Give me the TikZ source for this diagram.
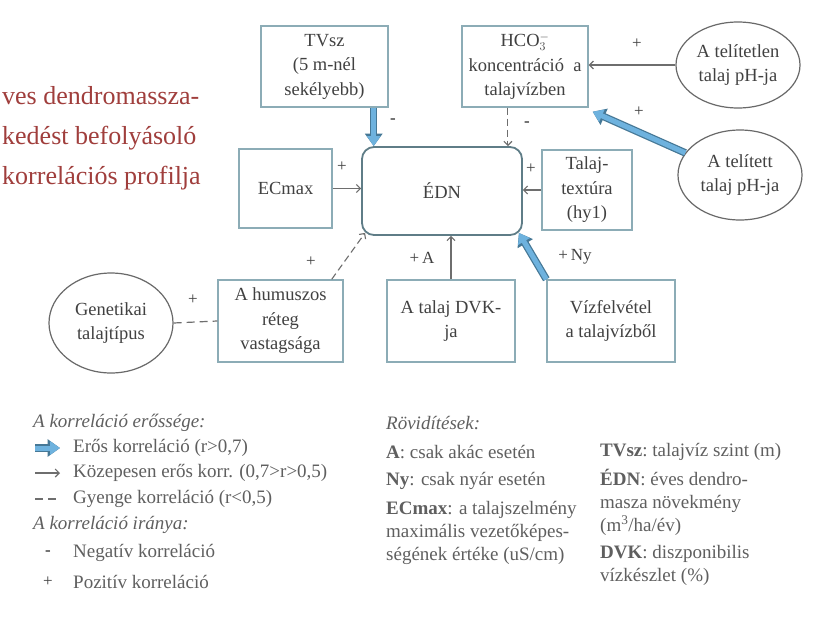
\documentclass[tikz,border=0pt]{standalone}
\usepackage{fontspec}
\setmainfont{Liberation Serif}
\usepackage{xcolor}
\usepackage{tikz}
\usetikzlibrary{arrows.meta,shapes.geometric,calc}

\definecolor{boxline}{RGB}{140,172,182}
\definecolor{ednline}{RGB}{95,125,135}
\definecolor{ovalline}{RGB}{105,105,105}
\definecolor{txtgray}{RGB}{65,65,65}
\definecolor{legendgray}{RGB}{95,95,95}
\definecolor{strongfill}{RGB}{110,178,222}
\definecolor{strongedge}{RGB}{70,120,150}
\definecolor{titlered}{RGB}{160,62,60}
\definecolor{arrowgray}{RGB}{110,110,110}

\tikzset{
    factor/.style={draw=boxline, line width=1.4pt, fill=white, text=txtgray,
        align=center, inner sep=0pt, font=\fontsize{18.5}{24.5}\selectfont},
    target/.style={factor, draw=ednline, line width=1.8pt, rounded corners=12pt},
    soil/.style={factor, draw=ovalline, line width=1.2pt, ellipse},
    strong/.style={draw=strongfill, line width=5pt, -{Triangle[length=10pt,width=13pt]},
        preaction={draw=strongedge, line width=7.5pt, -{Triangle[length=12.5pt,width=17pt]}}},
    medium/.style={draw=arrowgray, line width=1.1pt, -{Straight Barb[length=4pt,width=8pt]}},
    weak/.style={medium, dash pattern=on 7pt off 4pt},
    weakline/.style={draw=arrowgray, line width=1.2pt, dash pattern=on 8pt off 5pt},
    sign/.style={text=txtgray, inner sep=0pt, font=\fontsize{17}{20}\selectfont},
    legendhead/.style={anchor=west, inner sep=0pt, text=legendgray, font=\fontsize{19}{23}\selectfont\itshape},
    legendtext/.style={anchor=west, inner sep=0pt, text=legendgray, align=left, font=\fontsize{19}{23}\selectfont},
}

\begin{document}
\begin{tikzpicture}[x=1pt,y=-1pt]
    \useasboundingbox[fill=white] (0,0) rectangle (814,616);

    \node[anchor=west, inner sep=0pt, align=left, text=titlered,
        font=\fontsize{26}{40}\selectfont] (title) at (2,138)
        {ves dendromassza-\\kedést befolyásoló\\korrelációs profilja};

    % factors
    \node[factor, minimum width=127pt, minimum height=81pt] (tvsz) at (324.5,66.5) {TVsz\\(5 m-nél\\sekélyebb)};
    \node[factor, minimum width=126pt, minimum height=81pt] (hco) at (525,66.5) {HCO$_3^-$\\koncentráció\ \ a\\talajvízben};
    \node[soil, minimum width=124pt, minimum height=86pt] (tlen) at (738,65) {A telítetlen\\talaj pH-ja};
    \node[soil, minimum width=124pt, minimum height=90pt] (tett) at (740,175) {A telített\\talaj pH-ja};
    \node[factor, minimum width=93pt, minimum height=79pt] (ecmax) at (285.5,188.5) {ECmax};
    \node[target, minimum width=160pt, minimum height=88pt] (edn) at (442,191) {ÉDN};
    \node[factor, minimum width=90pt, minimum height=80pt] (textura) at (587,190) {Talaj-\\textúra\\(hy1)};
    \node[soil, minimum width=124pt, minimum height=100pt] (gen) at (111,323) {Genetikai\\talajtípus};
    \node[factor, minimum width=125pt, minimum height=82pt] (hum) at (280.5,321) {A humuszos\\réteg\\vastagsága};
    \node[factor, minimum width=128pt, minimum height=82pt] (dvk) at (451,321) {A talaj DVK-\\ja};
    \node[factor, minimum width=128pt, minimum height=82pt] (viz) at (611,321) {Vízfelvétel\\a talajvízből};

    % correlations
    \coordinate (tvszout) at ([xshift=-15pt]tvsz.south east);
    \coordinate (hcoin) at ([xshift=-15pt]edn.north east);
    \draw[strong] (tvszout) -- (tvszout |- edn.north);
    \draw[weak] (hcoin |- hco.south) -- (hcoin);
    \draw[medium] (ecmax.east) -- (ecmax.east -| edn.west);
    \draw[medium] (textura.west) -- (textura.west -| edn.east);
    \draw[medium] (tlen.west) -- (tlen.west -| hco.east);
    \draw[strong] (tett.158) -- ([shift={(4pt,-4pt)}]hco.south east);
    \draw[weakline] (gen.east) -- (hum.west);
    \draw[weak] ([xshift=-12pt]hum.north east) -- ([shift={(4pt,3pt)}]edn.south west);
    \draw[medium] (dvk.north) -- (dvk.north |- edn.south);
    \draw[strong] (viz.north west) -- ([shift={(-4pt,3pt)}]edn.south east);

    \foreach \n/\p/\t in {s1/{393,121}/\textbf{-}, s2/{527,124}/\textbf{-}, s3/{342,167}/+, s4/{531,169}/+,
        s5/{637,44}/+, s6/{639,112}/+, s7/{311,262}/+, s8/{193,300}/+,
        s9/{422,258}/+\,A, s10/{575,257}/+\,Ny} {
        \node[sign] (\n) at (\p) {\t};
    }

    % legend
    \node[legendhead] (lh1) at (33,423) {A korreláció erőssége:};
    \coordinate (ls1) at (35,448); \coordinate (le1) at (60,448);
    \coordinate (ls2) at (35,473); \coordinate (le2) at (60,473);
    \coordinate (ls3) at (35,499); \coordinate (le3) at (60,499);
    \draw[strong] (ls1) -- (le1);
    \draw[medium] (ls2) -- (le2);
    \draw[weakline] (ls3) -- (le3);
    \node[legendtext] (lt1) at (73,448) {Erős korreláció (r>0,7)};
    \node[legendtext] (lt2) at (73,473) {Közepesen erős korr. (0,7>r>0,5)};
    \node[legendtext] (lt3) at (73,499) {Gyenge korreláció (r<0,5)};
    \node[legendhead] (lh2) at (33,525) {A korreláció iránya:};
    \node[sign] (lneg) at (48,553) {\textbf{-}};
    \node[sign] (lpos) at (48,582) {+};
    \node[legendtext] (lt4) at (73,553) {Negatív korreláció};
    \node[legendtext] (lt5) at (73,582) {Pozitív korreláció};

    \node[legendhead] (rh) at (386,423) {Rövidítések:};
    \node[legendtext] (ra) at (386,452) {\textbf{A}: csak akác esetén};
    \node[legendtext] (rny) at (386,481) {\textbf{Ny}: csak nyár esetén};
    \node[legendtext] (rec) at (386,533) {\textbf{ECmax}: a talajszelmény\\maximális vezetőképes-\\ségének értéke (uS/cm)};
    \node[legendtext] (rtv) at (600,452) {\textbf{TVsz}:\ talajvíz\ szint (m)};
    \node[legendtext] (redn) at (600,502) {\textbf{ÉDN}: éves dendro-\\masza növekmény\\(m\textsuperscript{3}/ha/év)};
    \node[legendtext] (rdvk) at (600,565) {\textbf{DVK}:\ diszponibilis\\vízkészlet (\%)};
\end{tikzpicture}
\end{document}
